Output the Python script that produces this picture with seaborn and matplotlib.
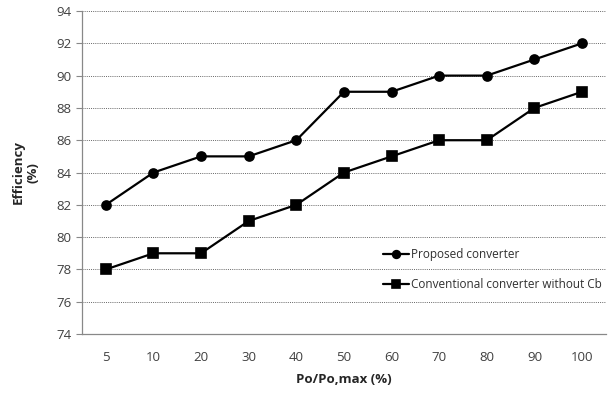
import numpy as np
import pandas as pd
import matplotlib
matplotlib.use("Agg")
import matplotlib.pyplot as plt
import seaborn as sns

# data
load = ["5", "10", "20", "30", "40", "50", "60", "70", "80", "90", "100"]
proposed = [82, 84, 85, 85, 86, 89, 89, 90, 90, 91, 92]
conventional = [78, 79, 79, 81, 82, 84, 85, 86, 86, 88, 89]
series_names = ["Proposed converter", "Conventional converter without Cb"]

df = pd.DataFrame({
    "load": load * 2,
    "eff": proposed + conventional,
    "serie": [series_names[0]] * len(load) + [series_names[1]] * len(load),
})

sns.set_style("white")
plt.rcParams["font.family"] = ["Open Sans", "DejaVu Sans"]

fig = plt.figure(figsize=(6.12, 3.93), dpi=100)
ax = fig.add_axes([0.134, 0.150, 0.856, 0.822])

sns.pointplot(data=df, x="load", y="eff", hue="serie", order=load,
              hue_order=series_names, palette=["black", "black"],
              markers=["o", "s"], linestyles=["-", "-"], markersize=6.5,
              linewidth=1.6, ax=ax)

ax.set_ylim(74, 94)
ax.set_xlim(-0.5, len(load) - 0.5)
ax.set_yticks(np.arange(74, 95, 2))
ax.yaxis.grid(True, linestyle=(0, (1, 1.2)), color="#666666", linewidth=0.7)
ax.xaxis.grid(False)
ax.set_axisbelow(True)

for s in ["top", "right"]:
    ax.spines[s].set_visible(False)
for s in ["left", "bottom"]:
    ax.spines[s].set_color("#888888")
    ax.spines[s].set_linewidth(0.9)

# Excel style: tick marks between categories, labels centred
ax.set_xticks(np.arange(-0.5, len(load), 1), minor=True)
ax.tick_params(axis="x", which="major", length=0, pad=12, labelsize=9.5, labelcolor="#404040")
ax.tick_params(axis="x", which="minor", length=4, color="#888888", direction="out")
ax.tick_params(axis="y", length=4, color="#888888", direction="out", labelsize=9.5,
               labelcolor="#404040", left=True)

ax.set_xlabel("Po/Po,max (%)", fontsize=9.5, fontweight="bold", labelpad=7)
ax.set_ylabel("Efficiency\n(%)", fontsize=9.5, fontweight="bold", labelpad=12)

leg = ax.legend(loc="center left", bbox_to_anchor=(0.555, 0.20), frameon=False,
                fontsize=8.5, handlelength=2.2, handletextpad=0.1, labelspacing=1.45,
                markerscale=0.85, labelcolor="#303030")

fig.savefig("out.png", dpi=100)
